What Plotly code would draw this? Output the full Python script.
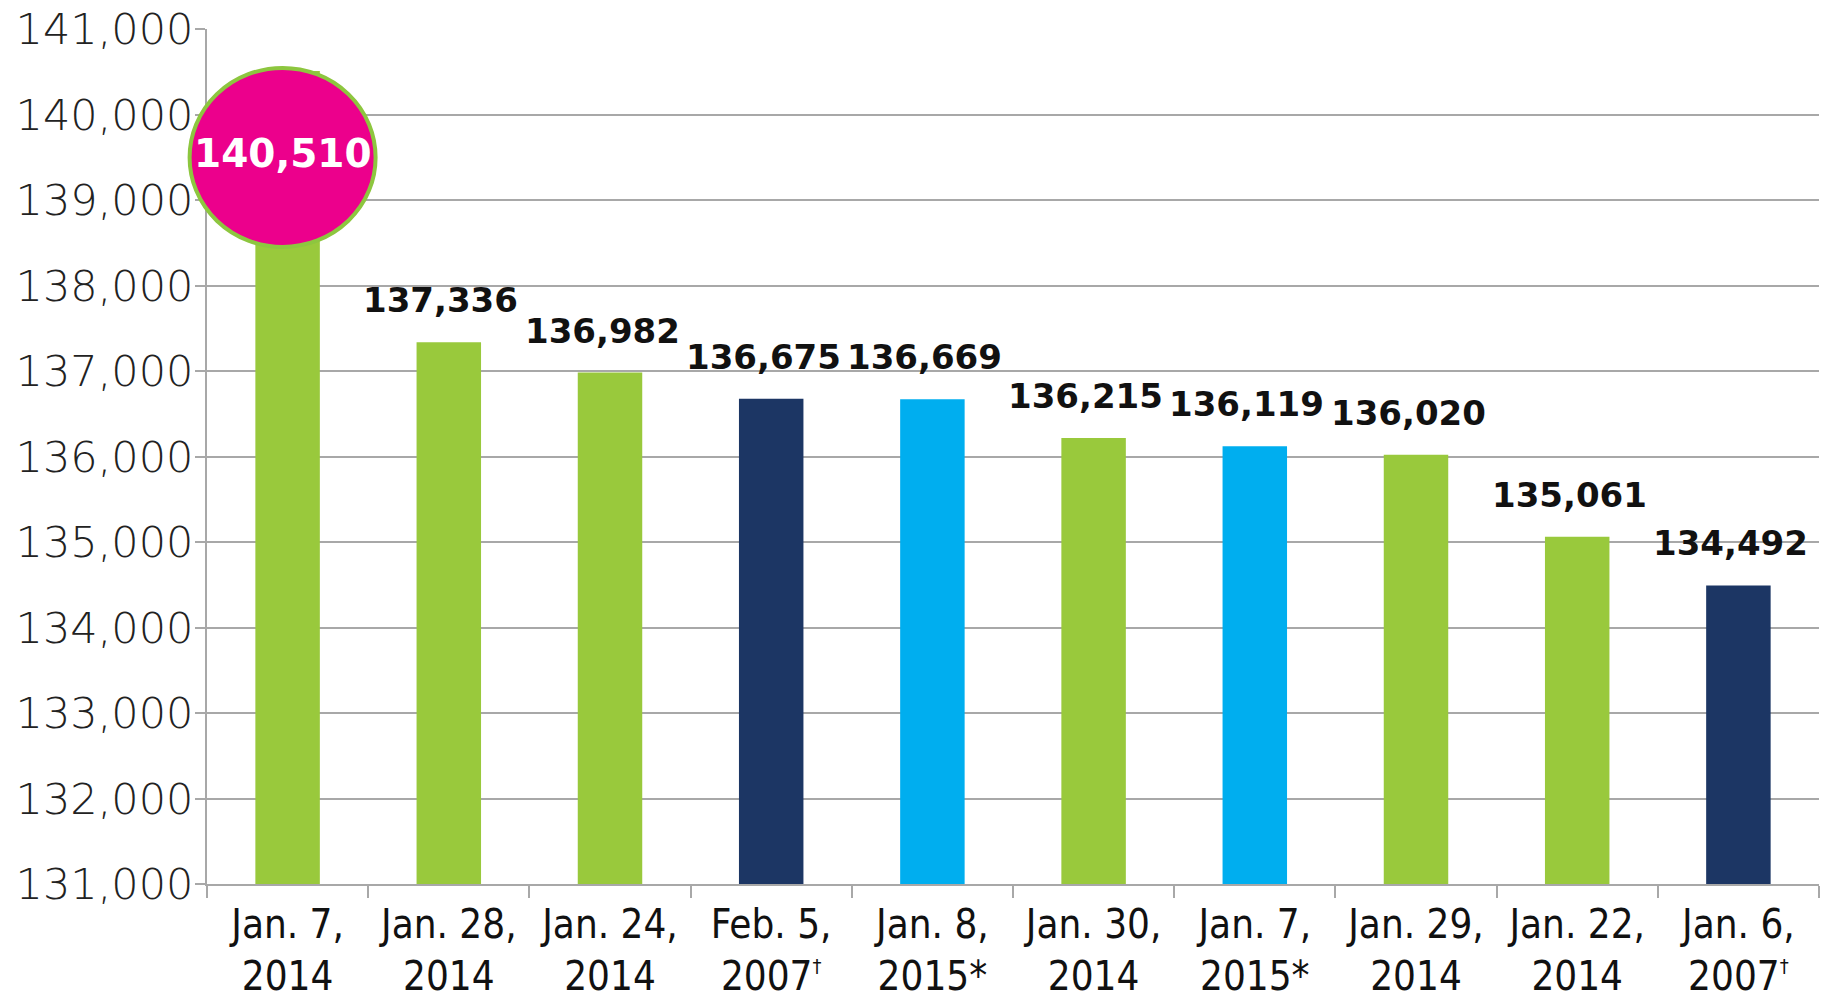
import plotly.graph_objects as go

# dias com maior demanda de pico
adaga = "<sup><span style='font-size:20px'>†</span></sup>"
datas = ['Jan. 7,<br>2014', 'Jan. 28,<br>2014', 'Jan. 24,<br>2014', 'Feb. 5,<br>2007' + adaga,
         'Jan. 8,<br>2015*', 'Jan. 30,<br>2014', 'Jan. 7,<br>2015*', 'Jan. 29,<br>2014',
         'Jan. 22,<br>2014', 'Jan. 6,<br>2007' + adaga]
valores = [140510, 137336, 136982, 136675, 136669, 136215, 136119, 136020, 135061, 134492]
grupos = ['2014', '2014', '2014', '2007', '2015', '2014', '2015', '2014', '2014', '2007']

cores_grupo = {'2014': '#99C93C', '2007': '#1C3664', '2015': '#00AEEF'}
cores = [cores_grupo[g] for g in grupos]

fig = go.Figure()
fig.add_trace(go.Bar(x=datas, y=valores, marker_color=cores, marker_line_width=0, width=0.4))

# rótulos acima das barras (exceto o recorde, que vai no círculo)
for d, v in zip(datas[1:], valores[1:]):
    fig.add_annotation(x=d, y=v, text=f'{v:,}', showarrow=False, yanchor='middle',
                       yshift=42, xshift=-8,
                       font=dict(family='DejaVu Sans', size=34, color='#111111', weight='bold'))

# círculo do recorde (xref paper para não ser cortado pelo eixo)
centro_x = 0.5 / len(datas)
fig.add_shape(type='circle', xref='paper', yref='y', xsizemode='pixel', ysizemode='pixel',
              xanchor=centro_x, yanchor=valores[0], x0=-98, x1=88, y0=-176, y1=3,
              fillcolor='#EC008C', line=dict(color='#8DC63F', width=4), layer='above')
fig.add_annotation(x=datas[0], y=valores[0], text=f'{valores[0]:,}', showarrow=False,
                   yanchor='middle', yshift=-83, xshift=-5,
                   font=dict(family='DejaVu Sans', size=39, color='white', weight='bold'))

# a página tem 8px de margem, então a figura fica um pouco menor
fig.update_layout(
    width=1823, height=989,
    margin=dict(l=199, r=12, t=21, b=113),
    paper_bgcolor='white', plot_bgcolor='white',
    showlegend=False, bargap=0.6,
)
fig.update_yaxes(range=[131000, 141000], dtick=1000, tickformat=',', automargin=False,
                 ticklabeloverflow='allow', ticklabelstandoff=-7,
                 showgrid=True, gridcolor='#A8A8A8', gridwidth=2,
                 showline=True, linecolor='#A8A8A8', linewidth=2,
                 ticks='outside', ticklen=10, tickcolor='#A8A8A8', tickwidth=2,
                 tickfont=dict(family='DejaVu Sans', size=43, color='#222222', weight=200))
fig.update_xaxes(range=[-0.5, 9.5], showline=True, linecolor='#A8A8A8', linewidth=2, automargin=False,
                 ticklabeloverflow='allow',
                 ticks='outside', tickson='boundaries', ticklen=12, tickcolor='#A8A8A8', tickwidth=2,
                 tickangle=0, ticklabelstandoff=4,
                 tickfont=dict(family='DejaVu Sans Condensed, Roboto', size=40, color='#111111'))

fig.write_html('out.html')
